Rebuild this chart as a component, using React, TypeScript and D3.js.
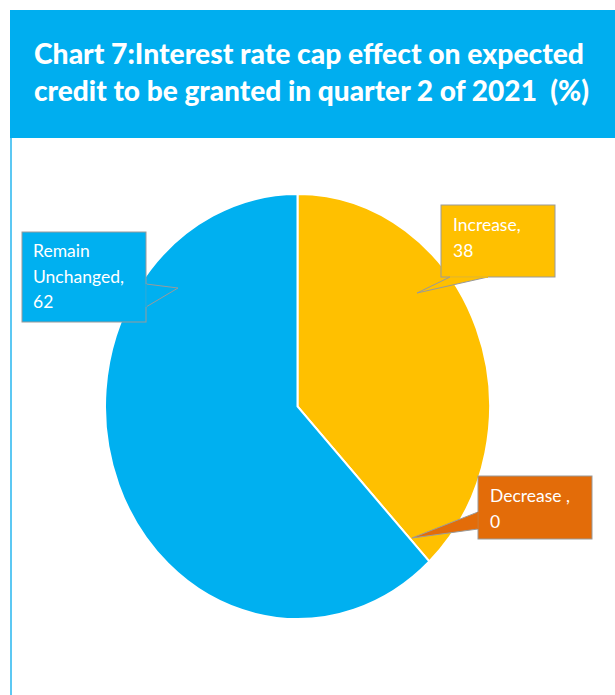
import React, { useRef, useEffect } from 'react';
import * as d3 from 'd3';

const WIDTH = 615;
const HEIGHT = 695;

// data
const categories = ['Increase', 'Decrease', 'Remain Unchanged'];
const values = [38, 0, 62];
const colors = ['#FFC000', '#E36C09', '#00B0F0'];
const titleLines = [
  'Chart 7:Interest rate cap effect on expected',
  'credit to be granted in quarter 2 of 2021  (%)',
];

// callout boxes: [x, y, w, h], pointer polygon, label lines
const callouts = [
  {
    box: [441, 205, 114, 72],
    pointer: [[450, 277], [417, 293], [488, 277]],
    lines: ['Increase,', '38'],
    textX: 453,
    textY: 231,
  },
  {
    box: [478, 476, 114, 63],
    pointer: [[478, 512], [412, 538], [478, 529]],
    lines: ['Decrease ,', '0'],
    textX: 490,
    textY: 502,
  },
  {
    box: [22, 232, 124, 90],
    pointer: [[146, 284], [178, 288], [146, 307]],
    lines: ['Remain', 'Unchanged,', '62'],
    textX: 33,
    textY: 257,
  },
];

const CX = 297.5;
const CY = 406.5;
const RX = 192.5;
const RY = 212.5;

export default function App() {
  const svgRef = useRef<SVGSVGElement>(null);

  useEffect(() => {
    if (!svgRef.current) return;
    const svg = d3.select(svgRef.current);
    svg.selectAll('*').remove();

    svg.append('rect').attr('width', WIDTH).attr('height', HEIGHT).attr('fill', '#fff');

    // header band
    svg.append('rect').attr('x', 10).attr('y', 10).attr('width', WIDTH - 10).attr('height', 128).attr('fill', '#00AEEF');
    svg.append('line')
      .attr('x1', 11).attr('x2', 11).attr('y1', 138).attr('y2', HEIGHT)
      .attr('stroke', '#5CC8F3').attr('stroke-width', 2);

    const titleLens = [550, 555];
    titleLines.forEach((t, i) => {
      svg.append('text')
        .attr('x', 34)
        .attr('y', 64 + i * 37)
        .attr('fill', '#fff')
        .attr('font-family', 'Lato, sans-serif')
        .attr('font-weight', 900)
        .attr('font-size', '28px')
        .attr('textLength', titleLens[i])
        .attr('lengthAdjust', 'spacingAndGlyphs')
        .style('white-space', 'pre')
        .text(t);
    });

    // pie (ellipse via scaled circle)
    const pie = d3.pie<number>().sort(null).value((d) => d);
    const arcs = pie(values);
    const arc = d3.arc<d3.PieArcDatum<number>>().innerRadius(0).outerRadius(RY);
    const g = svg.append('g').attr('transform', `translate(${CX},${CY}) scale(${RX / RY},1)`);
    g.selectAll('path')
      .data(arcs)
      .join('path')
      .attr('d', (d) => arc(d) ?? '')
      .attr('fill', (_, i) => colors[i])
      .attr('stroke', '#fff')
      .attr('stroke-width', (d) => (d.value > 0 ? 2 : 0))
      .attr('vector-effect', 'non-scaling-stroke');

    // callouts
    callouts.forEach((c, i) => {
      const [x, y, w, h] = c.box;
      const cg = svg.append('g');
      cg.append('rect')
        .attr('x', x).attr('y', y).attr('width', w).attr('height', h)
        .attr('fill', colors[i]).attr('stroke', '#9a9a9a').attr('stroke-width', 1);
      cg.append('polygon')
        .attr('points', c.pointer.map((p) => p.join(',')).join(' '))
        .attr('fill', colors[i]).attr('stroke', '#9a9a9a').attr('stroke-width', 1);
      // cover the border segment under the pointer base
      const [p0, , p2] = c.pointer;
      cg.append('line')
        .attr('x1', p0[0]).attr('y1', p0[1]).attr('x2', p2[0]).attr('y2', p2[1])
        .attr('stroke', colors[i]).attr('stroke-width', 1.5);
      c.lines.forEach((l, j) => {
        cg.append('text')
          .attr('x', c.textX)
          .attr('y', c.textY + j * 25.5)
          .attr('fill', '#fff')
          .attr('font-family', 'Lato, sans-serif')
          .attr('font-size', '17.5px')
          .text(l);
      });
    });
  }, []);

  return (
    <svg
      ref={svgRef}
      width={WIDTH}
      height={HEIGHT}
      style={{ position: 'absolute', left: 0, top: 0 }}
      viewBox={`0 0 ${WIDTH} ${HEIGHT}`}
    />
  );
}
